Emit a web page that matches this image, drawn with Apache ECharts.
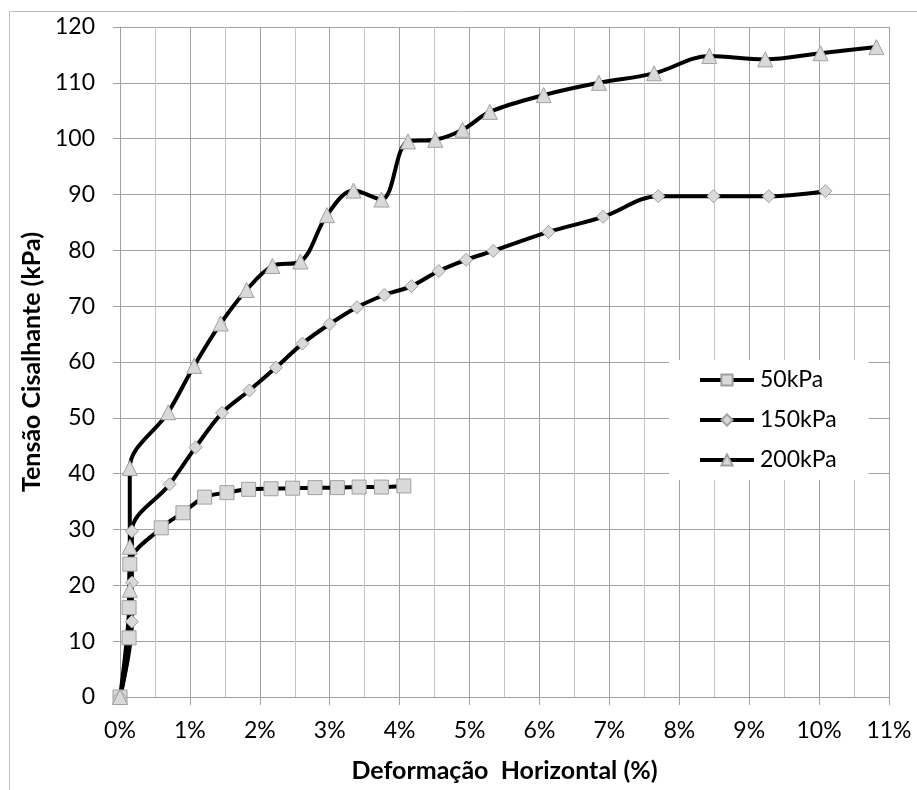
<!DOCTYPE html>
<html>
<head>
<meta charset="utf-8">
<script src="https://cdn.jsdelivr.net/npm/echarts/dist/echarts.min.js"></script>
<style>
  html, body { margin: 0; padding: 0; background: #fff; }
  #chart { width: 917px; height: 790px; }
</style>
</head>
<body>
<div id="chart"></div>
<script>
  // deformação horizontal (%) e tensão cisalhante (kPa)
  var x50 = [0, 0.13, 0.13, 0.14, 0.59, 0.90, 1.21, 1.53, 1.84, 2.16, 2.47, 2.79, 3.11, 3.42, 3.74, 4.06];
  var y50 = [0, 10.6, 16.0, 23.8, 30.3, 33.0, 35.8, 36.6, 37.2, 37.3, 37.4, 37.5, 37.5, 37.6, 37.6, 37.8];

  var x150 = [0, 0.17, 0.17, 0.17, 0.71, 1.08, 1.46, 1.85, 2.23, 2.61, 3.00, 3.39, 3.78, 4.17, 4.56, 4.95, 5.34, 6.13, 6.91, 7.70, 8.49, 9.28, 10.09];
  var y150 = [0, 13.5, 20.5, 29.7, 38.1, 44.7, 50.9, 54.9, 59.0, 63.3, 66.8, 69.8, 72.0, 73.6, 76.3, 78.3, 79.9, 83.3, 86.0, 89.7, 89.7, 89.7, 90.6];

  var x200 = [0, 0.14, 0.14, 0.14, 0.69, 1.06, 1.44, 1.81, 2.18, 2.58, 2.96, 3.34, 3.74, 4.12, 4.51, 4.90, 5.29, 6.06, 6.85, 7.64, 8.43, 9.23, 10.02, 10.82];
  var y200 = [0, 19.2, 26.9, 41.0, 51.0, 59.3, 66.9, 72.9, 77.2, 78.0, 86.3, 90.7, 89.1, 99.5, 99.8, 101.6, 104.8, 107.8, 110.0, 111.7, 114.8, 114.2, 115.3, 116.4];

  var seriesNames = ['50kPa', '150kPa', '200kPa'];
  var xTicks = [0, 1, 2, 3, 4, 5, 6, 7, 8, 9, 10, 11];

  function pairs(xs, ys) {
    return xs.map(function (v, i) { return [v, ys[i]]; });
  }

  var font = 'Lato';
  var markerStyle = { color: '#d9d9d9', borderColor: '#a0a0a0', borderWidth: 1 };

  function mkSeries(name, data, symbol, size) {
    return {
      name: name,
      type: 'line',
      data: data,
      smooth: 0.35,
      symbol: symbol,
      symbolSize: size,
      showAllSymbol: true,
      lineStyle: { color: '#000', width: 4 },
      itemStyle: markerStyle,
      emphasis: { disabled: true }
    };
  }

  var chart = echarts.init(document.getElementById('chart'));
  chart.setOption({
    animation: false,
    backgroundColor: '#fff',
    textStyle: { fontFamily: font },
    graphic: [{
      type: 'rect',
      shape: { x: 9.5, y: 11.5, width: 1000, height: 1000 },
      style: { fill: 'none', stroke: '#bfbfbf', lineWidth: 1 },
      silent: true
    }],
    grid: { left: 120, top: 27, right: 28, bottom: 93 },
    legend: {
      data: seriesNames,
      orient: 'vertical',
      left: 669,
      top: 360,
      padding: [7, 32, 7, 29],
      itemGap: 14,
      itemWidth: 54,
      itemHeight: 14,
      backgroundColor: '#fff',
      lineStyle: { color: '#000', width: 4 },
      textStyle: { fontFamily: font, fontSize: 23, color: '#000', lineHeight: 26, padding: [0, 0, 0, 1] }
    },
    xAxis: {
      type: 'value',
      min: 0,
      max: 11,
      interval: 1,
      name: 'Deformação  Horizontal (%)',
      nameLocation: 'middle',
      nameGap: 61,
      nameTextStyle: { fontFamily: font, fontSize: 25, fontWeight: 'bold', color: '#000' },
      axisLine: { show: true, lineStyle: { color: '#a0a0a0', width: 1 } },
      axisTick: { show: true, length: 8, lineStyle: { color: '#a0a0a0' } },
      axisLabel: {
        margin: 22,
        fontSize: 23,
        color: '#000',
        formatter: function (v) { return xTicks.indexOf(v) >= 0 ? v + '%' : ''; }
      },
      splitLine: { show: true, lineStyle: { color: '#a0a0a0', width: 1 } },
      minorTick: { show: false, splitNumber: 2 },
      minorSplitLine: { show: true, lineStyle: { color: '#c4c4c4', width: 1 } }
    },
    yAxis: {
      type: 'value',
      min: 0,
      max: 120,
      interval: 10,
      name: 'Tensão Cisalhante (kPa)',
      nameLocation: 'middle',
      nameGap: 73,
      nameTextStyle: { fontFamily: font, fontSize: 25, fontWeight: 'bold', color: '#000' },
      axisLine: { show: true, lineStyle: { color: '#a0a0a0', width: 1 } },
      axisTick: { show: true, length: 7, lineStyle: { color: '#a0a0a0' } },
      axisLabel: { margin: 25, fontSize: 23, color: '#000' },
      splitLine: { show: true, lineStyle: { color: '#a0a0a0', width: 1 } }
    },
    series: [
      mkSeries(seriesNames[0], pairs(x50, y50), 'rect', 14),
      mkSeries(seriesNames[1], pairs(x150, y150), 'diamond', 13),
      mkSeries(seriesNames[2], pairs(x200, y200), 'triangle', 15)
    ]
  });
</script>
</body>
</html>
